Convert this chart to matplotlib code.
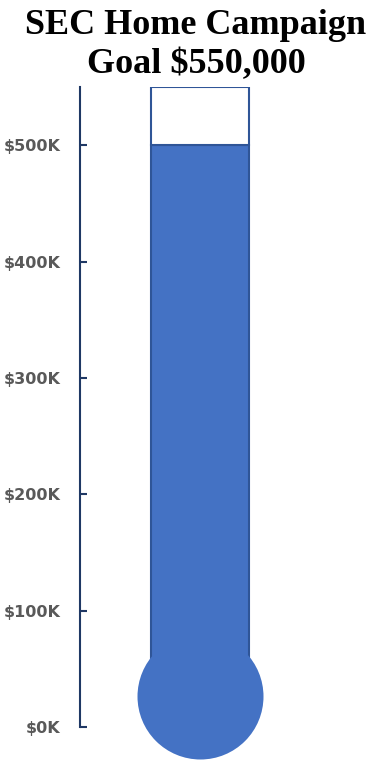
import matplotlib.pyplot as plt
from matplotlib.ticker import FuncFormatter

# data
goal = 550
raised = [500]
categories = ['Raised']
tick_values = [0, 100, 200, 300, 400, 500]
title = 'SEC Home Campaign\nGoal $550,000'

blue = '#4472C4'
edge = '#2F5597'
navy = '#1F3864'

fig = plt.figure(figsize=(3.92, 7.72), dpi=100)
ax = fig.add_axes([80/392, 1 - 727/772, 240/392, 640/772])

# filled part and the empty part up to the goal
ax.bar(categories, raised, width=0.41, color=blue, edgecolor=edge, linewidth=1.5)
ax.bar(categories, [goal - raised[0]], bottom=raised, width=0.41,
       color='white', edgecolor=edge, linewidth=1.5)

# bulb of the thermometer
ax.scatter([0], [26.5], s=(126*0.72)**2, color=blue, zorder=5, clip_on=False,
           linewidths=0)

ax.set_xlim(-0.5, 0.5)
ax.set_ylim(0, goal)
ax.set_yticks(tick_values)
ax.yaxis.set_major_formatter(FuncFormatter(lambda v, p: '$%dK' % v))
ax.tick_params(axis='y', direction='in', length=5, width=1.5, color=navy,
               labelsize=11.5, labelcolor='#595959', pad=14)
for lab in ax.get_yticklabels():
    lab.set_fontweight('bold')
ax.set_xticks([])
for s in ['top', 'right', 'bottom']:
    ax.spines[s].set_visible(False)
ax.spines['left'].set_color(navy)
ax.spines['left'].set_linewidth(1.5)

fig.text(0.5, 1 - 45/772, title, ha='center', va='center', fontsize=26,
         fontweight='bold', family='Liberation Serif', linespacing=1.22)

fig.savefig('out.png', dpi=100)
